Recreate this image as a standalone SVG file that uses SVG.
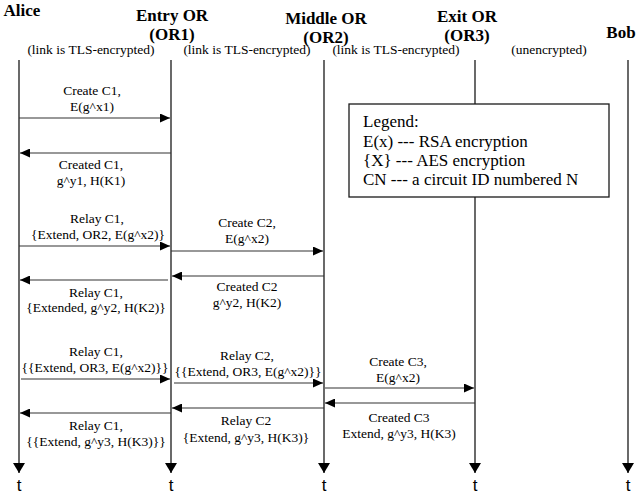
<svg xmlns="http://www.w3.org/2000/svg" width="640" height="501" viewBox="0 0 640 501">
<style>
.hd{font-family:"Liberation Serif","Times New Roman",serif;font-weight:bold;font-size:17px;fill:#000;text-anchor:middle}
.lk{font-family:"Liberation Serif","Times New Roman",serif;font-size:13.5px;fill:#000;text-anchor:middle}
.msg{font-family:"Liberation Serif","Times New Roman",serif;font-size:13.5px;fill:#000;text-anchor:middle}
.lg{font-family:"Liberation Serif","Times New Roman",serif;font-size:17px;fill:#000}
.t{font-family:"Liberation Sans",Arial,sans-serif;font-size:17px;fill:#000;text-anchor:middle}
.life{stroke:#1a1a1a;stroke-width:1.3;fill:none;marker-end:url(#ahb)}
.ar{stroke:#333;stroke-width:1.2;fill:none;marker-end:url(#ah)}
</style>
<defs>
<marker id="ah" markerUnits="userSpaceOnUse" markerWidth="10" markerHeight="9" refX="10" refY="4.5" orient="auto"><path d="M0,0 L10,4.5 L0,9 z" fill="#000"/></marker>
<marker id="ahb" markerUnits="userSpaceOnUse" markerWidth="10" markerHeight="12" refX="10" refY="6" orient="auto"><path d="M0,0 L10,6 L0,12 z" fill="#000"/></marker>
</defs>
<rect width="640" height="501" fill="#fff"/>

<g id="alice">
<text class="hd" x="22" y="16">Alice</text>
<line class="life" x1="19" y1="60" x2="19" y2="473"/>
<text class="t" x="19" y="491">t</text>
</g>
<g id="or1">
<text class="hd" x="172" y="21">Entry OR</text>
<text class="hd" x="172" y="40">(OR1)</text>
<line class="life" x1="171" y1="60" x2="171" y2="473"/>
<text class="t" x="171" y="491">t</text>
</g>
<g id="or2">
<text class="hd" x="326" y="24">Middle OR</text>
<text class="hd" x="326" y="43">(OR2)</text>
<line class="life" x1="324" y1="60" x2="324" y2="473"/>
<text class="t" x="324" y="491">t</text>
</g>
<g id="or3">
<text class="hd" x="467" y="22">Exit OR</text>
<text class="hd" x="467" y="41">(OR3)</text>
<line class="life" x1="475" y1="60" x2="475" y2="473"/>
<text class="t" x="475" y="491">t</text>
</g>
<g id="bob">
<text class="hd" x="621" y="38">Bob</text>
<line class="life" x1="628" y1="60" x2="628" y2="473"/>
<text class="t" x="628" y="491">t</text>
</g>

<g id="links">
<text class="lk" x="91" y="54">(link is TLS-encrypted)</text>
<text class="lk" x="247" y="54">(link is TLS-encrypted)</text>
<text class="lk" x="396" y="54">(link is TLS-encrypted)</text>
<text class="lk" x="549" y="54">(unencrypted)</text>
</g>

<g id="legend">
<rect x="349" y="104" width="260" height="93" fill="#fff" stroke="#1a1a1a" stroke-width="1.3"/>
<text class="lg" x="363" y="127">Legend:</text>
<text class="lg" x="363" y="147">E(x) --- RSA encryption</text>
<text class="lg" x="363" y="166">{X} --- AES encryption</text>
<text class="lg" x="363" y="185">CN --- a circuit ID numbered N</text>
</g>

<g id="connectors">
<line class="ar" x1="19" y1="118" x2="170" y2="118"/>
<line class="ar" x1="171" y1="153" x2="20" y2="153"/>
<line class="ar" x1="19" y1="246" x2="170" y2="246"/>
<line class="ar" x1="171" y1="251" x2="323" y2="251"/>
<line class="ar" x1="324" y1="276" x2="172" y2="276"/>
<line class="ar" x1="168" y1="280" x2="20" y2="280"/>
<line class="ar" x1="21" y1="379" x2="170" y2="379"/>
<line class="ar" x1="174" y1="383" x2="323" y2="383"/>
<line class="ar" x1="325" y1="388" x2="474" y2="388"/>
<line class="ar" x1="475" y1="403" x2="325" y2="403"/>
<line class="ar" x1="324" y1="408" x2="172" y2="408"/>
<line class="ar" x1="171" y1="413" x2="20" y2="413"/>
</g>

<g id="labels">
<text class="msg" x="92" y="95">Create C1,</text>
<text class="msg" x="92" y="111">E(g^x1)</text>
<text class="msg" x="91" y="169">Created C1,</text>
<text class="msg" x="91" y="185">g^y1, H(K1)</text>
<text class="msg" x="97" y="223">Relay C1,</text>
<text class="msg" x="98" y="239">{Extend, OR2, E(g^x2)}</text>
<text class="msg" x="247" y="227">Create C2,</text>
<text class="msg" x="247" y="243">E(g^x2)</text>
<text class="msg" x="247" y="291">Created C2</text>
<text class="msg" x="247" y="307">g^y2, H(K2)</text>
<text class="msg" x="96" y="297">Relay C1,</text>
<text class="msg" x="96" y="312">{Extended, g^y2, H(K2)}</text>
<text class="msg" x="96" y="356">Relay C1,</text>
<text class="msg" x="95" y="372">{{Extend, OR3, E(g^x2)}}</text>
<text class="msg" x="247" y="360">Relay C2,</text>
<text class="msg" x="248" y="376">{{Extend, OR3, E(g^x2)}}</text>
<text class="msg" x="398" y="366">Create C3,</text>
<text class="msg" x="398" y="382">E(g^x2)</text>
<text class="msg" x="399" y="422">Created C3</text>
<text class="msg" x="399" y="438">Extend, g^y3, H(K3)</text>
<text class="msg" x="246" y="425">Relay C2</text>
<text class="msg" x="246" y="442">{Extend, g^y3, H(K3)}</text>
<text class="msg" x="96" y="430">Relay C1,</text>
<text class="msg" x="96" y="446">{{Extend, g^y3, H(K3)}}</text>
</g>
</svg>
